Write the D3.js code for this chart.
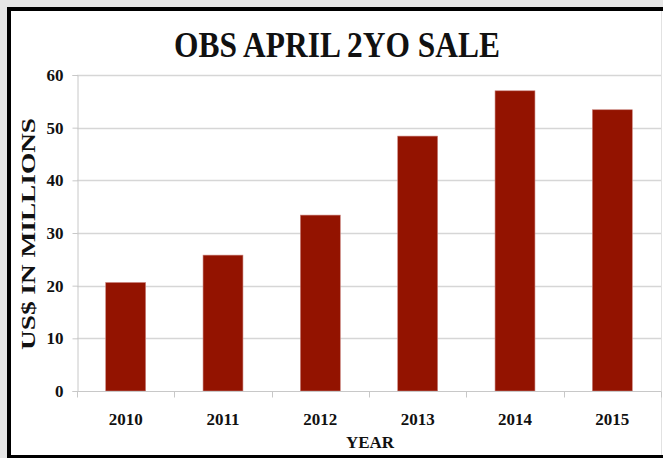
<!DOCTYPE html>
<html lang="en">

<head>
    <meta charset="UTF-8">
    <title>OBS April 2YO Sale</title>
    <script src="https://d3js.org/d3.v7.min.js"></script>
    <style>
        body {
            margin: 0;
            background: #e6e6e6;
        }

        svg text {
            font-family: "Liberation Serif", "Times New Roman", serif;
            font-weight: bold;
            fill: #111;
        }
    </style>
</head>

<body>
    <script>
        // Chart data
        var years = ['2010', '2011', '2012', '2013', '2014', '2015'];
        var sales = [20.6, 25.8, 33.4, 48.4, 57.0, 53.4];
        var yTicks = [0, 10, 20, 30, 40, 50, 60];

        var width = 663, height = 458;

        var svg = d3.select("body").append("svg")
            .attr("width", width)
            .attr("height", height);

        // frame: gray page, black border, white panel
        svg.append("rect").attr("x", 7).attr("y", 7)
            .attr("width", width - 7).attr("height", height - 7)
            .attr("fill", "#000");
        svg.append("rect").attr("x", 11).attr("y", 11)
            .attr("width", width - 11).attr("height", 444)
            .attr("fill", "#fff");
        svg.append("line")
            .attr("x1", 661.5).attr("x2", 661.5).attr("y1", 11).attr("y2", 455)
            .attr("stroke", "#e2e2e2");

        // scales
        var xScale = d3.scaleBand().domain(years).range([77, 661])
            .paddingInner(0.59).paddingOuter(0.295);
        var yScale = d3.scaleLinear().domain([0, 60]).range([391, 75]);

        // gridlines
        svg.append("g")
            .selectAll("line")
            .data(yTicks.slice(1))
            .enter().append("line")
            .attr("x1", 77).attr("x2", 661)
            .attr("y1", d => Math.round(yScale(d)) + 0.5)
            .attr("y2", d => Math.round(yScale(d)) + 0.5)
            .attr("stroke", "#d6d6d6")
            .attr("stroke-width", 1.3);

        // y axis
        var yAxis = d3.axisLeft(yScale)
            .tickValues(yTicks)
            .tickSize(5)
            .tickPadding(9);
        var yG = svg.append("g").attr("transform", "translate(77.5,0)").call(yAxis);
        yG.select(".domain").attr("stroke", "#c8c8c8");
        yG.selectAll(".tick line").attr("stroke", "#c8c8c8");
        yG.selectAll(".tick text")
            .style("font-size", "17px")
            .attr("fill", "#111");

        // bars
        svg.append("g")
            .selectAll("rect")
            .data(sales)
            .enter().append("rect")
            .attr("x", (d, i) => xScale(years[i]))
            .attr("y", d => yScale(d))
            .attr("width", xScale.bandwidth())
            .attr("height", d => yScale(0) - yScale(d))
            .attr("fill", "#931300")
            .attr("stroke", "#c9807a")
            .attr("stroke-width", 0.6);

        // x axis
        var step = xScale.step();
        var xG = svg.append("g").attr("transform", "translate(0,391.5)");
        xG.append("line")
            .attr("x1", 77).attr("x2", 661)
            .attr("stroke", "#c8c8c8");
        xG.selectAll(".xtick")
            .data(d3.range(years.length + 1))
            .enter().append("line")
            .attr("x1", i => Math.round(77 + i * step) + 0.5)
            .attr("x2", i => Math.round(77 + i * step) + 0.5)
            .attr("y1", 0).attr("y2", 6)
            .attr("stroke", "#c8c8c8");
        xG.selectAll("text")
            .data(years)
            .enter().append("text")
            .attr("x", d => xScale(d) + xScale.bandwidth() / 2)
            .attr("y", 33)
            .attr("text-anchor", "middle")
            .style("font-size", "17px")
            .text(d => d);

        // title
        svg.append("text")
            .attr("x", 337)
            .attr("y", 57)
            .attr("text-anchor", "middle")
            .attr("textLength", 326)
            .attr("lengthAdjust", "spacingAndGlyphs")
            .style("font-size", "35px")
            .text("OBS APRIL 2YO SALE");

        // axis titles
        svg.append("text")
            .attr("x", 370)
            .attr("y", 448)
            .attr("text-anchor", "middle")
            .style("font-size", "17px")
            .text("YEAR");

        svg.append("text")
            .attr("transform", "translate(35,234) rotate(-90)")
            .attr("text-anchor", "middle")
            .attr("textLength", 232)
            .attr("lengthAdjust", "spacingAndGlyphs")
            .style("font-size", "19px")
            .text("US$ IN MILLIONS");
    </script>
</body>

</html>
